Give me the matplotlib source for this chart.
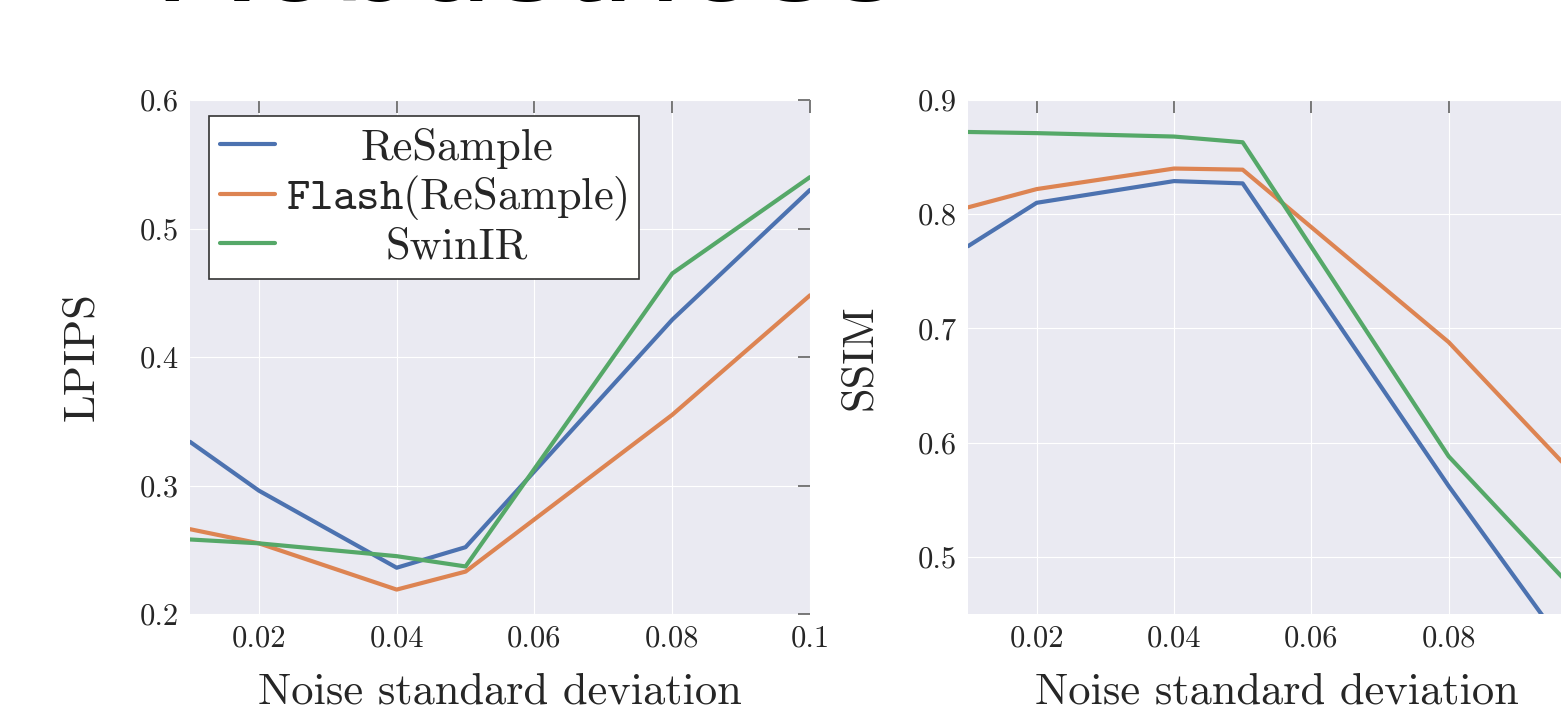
import matplotlib
matplotlib.use("Agg")
import matplotlib.pyplot as plt
import seaborn as sns

# noise levels (x axis)
noise = [0.01, 0.02, 0.04, 0.05, 0.08, 0.1]
methods = ["ReSample", r"$\mathtt{Flash}$(ReSample)", "SwinIR"]
colors = ["#4C72B0", "#DD8452", "#55A868"]

lpips_resample = [0.334, 0.296, 0.236, 0.252, 0.429, 0.530]
lpips_flash = [0.266, 0.255, 0.219, 0.233, 0.355, 0.448]
lpips_swinir = [0.258, 0.255, 0.245, 0.237, 0.465, 0.540]

ssim_resample = [0.772, 0.810, 0.829, 0.827, 0.562, 0.396]
ssim_flash = [0.806, 0.822, 0.840, 0.839, 0.688, 0.561]
ssim_swinir = [0.872, 0.871, 0.868, 0.863, 0.588, 0.460]

xticks = [0.02, 0.04, 0.06, 0.08, 0.1]
xticklabels = ["0.02", "0.04", "0.06", "0.08", "0.1"]
lpips_ticks = [0.2, 0.3, 0.4, 0.5, 0.6]
ssim_ticks = [0.5, 0.6, 0.7, 0.8, 0.9]

sns.set_style("darkgrid")
plt.rcParams["font.family"] = "serif"
plt.rcParams["font.serif"] = ["cmr10"]
plt.rcParams["mathtext.fontset"] = "cm"
plt.rcParams["axes.formatter.use_mathtext"] = True

fig = plt.figure(figsize=(15.61, 7.09), dpi=100)
ax1 = fig.add_axes([190 / 1561, 1 - 614 / 709, 620 / 1561, 514 / 709])
ax2 = fig.add_axes([968 / 1561, 1 - 614 / 709, 618 / 1561, 514 / 709])

# big slide title, mostly off the top of the picture
fig.text(153 / 1561, 1 - 0.5 / 709, "Robustness", family="Liberation Sans",
         fontsize=102, ha="left", va="baseline", color="black")

series = [
    (ax1, [lpips_resample, lpips_flash, lpips_swinir], "LPIPS", (0.2, 0.6), lpips_ticks),
    (ax2, [ssim_resample, ssim_flash, ssim_swinir], "SSIM", (0.45, 0.9), ssim_ticks),
]
for ax, ys, ylabel, ylim, yticks in series:
    for y, lab, c in zip(ys, methods, colors):
        ax.plot(noise, y, color=c, lw=3, label=lab)
    ax.set_xlim(0.01, 0.1)
    ax.set_ylim(*ylim)
    ax.set_xticks(xticks)
    ax.set_xticklabels(xticklabels)
    ax.set_yticks(yticks)
    ax.set_yticklabels([f"{t:.1f}" for t in yticks])
    ax.tick_params(direction="in", length=9, width=1.1, color="#555555",
                   labelsize=22, top=True, right=True, pad=8)
    ax.set_xlabel("Noise standard deviation", fontsize=32, labelpad=14)
    ax.set_ylabel(ylabel, fontsize=32, labelpad=27)
    for s in ax.spines.values():
        s.set_visible(False)

leg = ax1.legend(loc="upper left", bbox_to_anchor=(0.031, 0.968), fontsize=32,
                 frameon=True, fancybox=False, framealpha=1, edgecolor="#333333",
                 handlelength=1.22, handletextpad=0.25, labelspacing=0.11,
                 borderpad=0.25, borderaxespad=0)
leg.get_frame().set_linewidth(1.2)
leg.get_frame().set_facecolor("white")

# center the legend labels within their column
fig.canvas.draw()
texts = leg.get_texts()
boxes = [t.get_window_extent() for t in texts]
cx = (min(b.x0 for b in boxes) + max(b.x1 for b in boxes)) / 2
for t in texts:
    bx, by = t.get_transform().transform(t.get_position())
    fx, fy = fig.transFigure.inverted().transform((cx, by))
    fig.text(fx, fy, t.get_text(), fontsize=32, ha="center", va="baseline", zorder=10)
    t.set_alpha(0)

fig.savefig("out.png", dpi=100)
